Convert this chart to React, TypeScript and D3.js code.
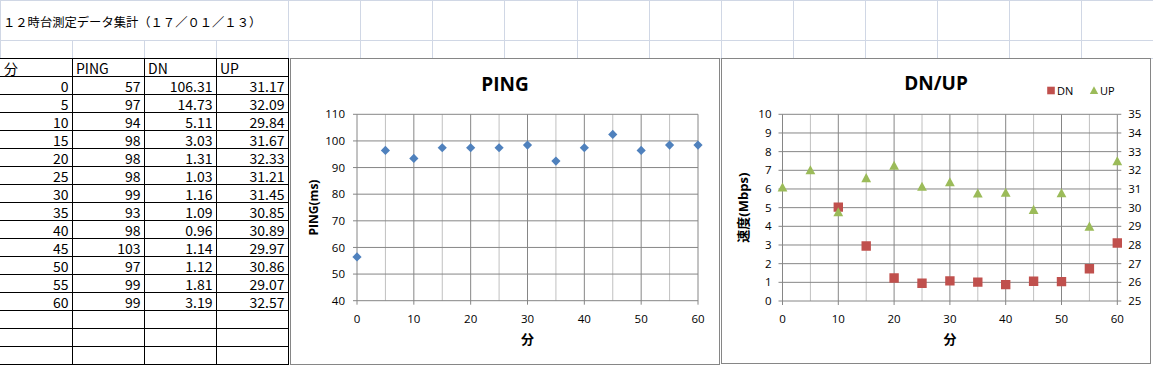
import React from "react";
import * as d3 from "d3";

const minutes = [0, 5, 10, 15, 20, 25, 30, 35, 40, 45, 50, 55, 60];
const ping = [57, 97, 94, 98, 98, 98, 99, 93, 98, 103, 97, 99, 99];
const dn = [106.31, 14.73, 5.11, 3.03, 1.31, 1.03, 1.16, 1.09, 0.96, 1.14, 1.12, 1.81, 3.19];
const up = [31.17, 32.09, 29.84, 31.67, 32.33, 31.21, 31.45, 30.85, 30.89, 29.97, 30.86, 29.07, 32.57];

const headers = ["分", "PING", "DN", "UP"];
const sheetTitle = "１２時台測定データ集計（１７／０１／１３）";
const pingTitle = "PING";
const dnupTitle = "DN/UP";
const xTitle = "分";
const pingYTitle = "PING(ms)";
const dnupYTitle = "速度(Mbps)";
const xTicks = [0, 10, 20, 30, 40, 50, 60];
const xMinor = [5, 15, 25, 35, 45, 55];
const pingTicks = [40, 50, 60, 70, 80, 90, 100, 110];
const dnTicks = [0, 1, 2, 3, 4, 5, 6, 7, 8, 9, 10];
const upTicks = [25, 26, 27, 28, 29, 30, 31, 32, 33, 34, 35];

const W = 1153;
const H = 365;
const COLW = 1153 / 16;
const SHEET_GRID = "#d0d7e5";
const MAJOR = "#868686";
const MINOR = "#c0c0c0";
const BLUE = "#4f81bd";
const RED = "#c0504d";
const GREEN = "#9bbb59";
const MARK_DY = 1.5;
const CHART_FONT = "'Open Sans', 'Noto Sans CJK JP', sans-serif";
const CJK_FONT = "'Noto Sans CJK JP', sans-serif";

const colX = d3.range(17).map((i) => Math.round(i * COLW));
const rowTops = [0, 40, 58];
const tableRows = d3.range(17).map((i) => 58 + i * 18);
const tableBottom = 364;

const diamond = (r: number) => `M0,${-r}L${r},0L0,${r}L${-r},0Z`;
const square = (r: number) => `M${-r},${-r}H${r}V${r}H${-r}Z`;
const triangle = (r: number) => `M0,${-r}L${r},${r * 0.85}H${-r}Z`;

function SheetGrid() {
  const lines: React.ReactNode[] = [];
  colX.forEach((x, i) => {
    const hiddenTop = i >= 1 && i <= 3;
    lines.push(
      <line key={"v" + i} x1={x + 0.5} x2={x + 0.5} y1={hiddenTop ? 40 : 0} y2={58} stroke={SHEET_GRID} />
    );
  });
  rowTops.forEach((y, i) => {
    lines.push(<line key={"h" + i} x1={0} x2={W} y1={y + 0.5} y2={y + 0.5} stroke={SHEET_GRID} />);
  });
  return <g>{lines}</g>;
}

function DataTable() {
  const fmt2 = d3.format(".2f");
  const rows = minutes.map((m, i) => [String(m), String(ping[i]), fmt2(dn[i]), fmt2(up[i])]);
  const right = colX.slice(1, 5);
  return (
    <g fontFamily={CJK_FONT} fontSize={14} fill="#000">
      {tableRows.map((y, i) => (
        <line key={"r" + i} x1={0} x2={right[3] + 0.5} y1={y + 0.5} y2={y + 0.5} stroke="#000" />
      ))}
      <line x1={0} x2={right[3] + 0.5} y1={tableBottom + 0.5} y2={tableBottom + 0.5} stroke="#000" />
      {right.map((x, i) => (
        <line key={"c" + i} x1={x + 0.5} x2={x + 0.5} y1={58} y2={tableBottom + 1} stroke="#000" />
      ))}
      {headers.map((h, i) => (
        <text key={"hd" + i} x={colX[i] + 4} y={74}>
          {h}
        </text>
      ))}
      {rows.map((r, ri) =>
        r.map((v, ci) => (
          <text key={ri + "-" + ci} x={right[ci] - 3.5} y={76 + (ri + 1) * 18 - 2} textAnchor="end">
            {v}
          </text>
        ))
      )}
    </g>
  );
}

function PingChart() {
  const x0 = 290, x1 = 720, y0 = 58, y1 = 364;
  const x = d3.scaleLinear().domain([0, 60]).range([357, 698]);
  const y = d3.scaleLinear().domain([40, 110]).range([300.7, 114.3]);
  return (
    <g fontFamily={CHART_FONT}>
      <rect x={x0 + 0.5} y={y0 + 0.5} width={x1 - x0 - 1} height={y1 - y0} fill="#fff" stroke={MAJOR} />
      <text x={(x0 + x1) / 2} y={90.5} textAnchor="middle" fontWeight="bold" fontSize={19}>
        {pingTitle}
      </text>
      {xMinor.map((t) => (
        <line key={"m" + t} x1={x(t)} x2={x(t)} y1={y(110)} y2={y(40)} stroke={MINOR} />
      ))}
      {xTicks.map((t) => (
        <line key={"vx" + t} x1={x(t)} x2={x(t)} y1={y(110)} y2={y(40) + 4} stroke={MAJOR} />
      ))}
      {pingTicks.map((t) => (
        <line key={"hy" + t} x1={x(0) - 4} x2={x(60)} y1={y(t)} y2={y(t)} stroke={MAJOR} />
      ))}
      <g fontSize={11.5} fill="#000">
        {pingTicks.map((t) => (
          <text key={"ty" + t} x={345} y={y(t)} dy="0.36em" textAnchor="end">
            {t}
          </text>
        ))}
        {xTicks.map((t) => (
          <text key={"tx" + t} x={x(t)} y={322.5} textAnchor="middle">
            {t}
          </text>
        ))}
      </g>
      <text x={(x(0) + x(60)) / 2} y={344} textAnchor="middle" fontWeight="bold" fontSize={13} fontFamily={CJK_FONT}>
        {xTitle}
      </text>
      <text
        transform={`translate(317.5,${(y(40) + y(110)) / 2}) rotate(-90)`}
        textAnchor="middle"
        fontWeight="bold"
        fontSize={12}
      >
        {pingYTitle}
      </text>
      {minutes.map((m, i) => (
        <path key={"p" + i} d={diamond(4.6)} transform={`translate(${x(m)},${y(ping[i]) + MARK_DY})`} fill={BLUE} />
      ))}
    </g>
  );
}

function DnUpChart() {
  const x0 = 721, x1 = 1151, y0 = 58, y1 = 363;
  const x = d3.scaleLinear().domain([0, 60]).range([782.5, 1117.3]);
  const yL = d3.scaleLinear().domain([0, 10]).range([301, 114.3]);
  const yR = d3.scaleLinear().domain([25, 35]).range([301, 114.3]);
  return (
    <g fontFamily={CHART_FONT}>
      <defs>
        <clipPath id="dnclip">
          <rect x={x(0) - 6} y={yL(10) - 6} width={x(60) - x(0) + 12} height={yL(0) - yL(10) + 12} />
        </clipPath>
      </defs>
      <rect x={x0 + 0.5} y={y0 + 0.5} width={x1 - x0 - 1} height={y1 - y0} fill="#fff" stroke={MAJOR} />
      <text x={(x0 + x1) / 2} y={90} textAnchor="middle" fontWeight="bold" fontSize={19}>
        {dnupTitle}
      </text>
      {xMinor.map((t) => (
        <line key={"m" + t} x1={x(t)} x2={x(t)} y1={yL(10)} y2={yL(0)} stroke={MINOR} />
      ))}
      {xTicks.map((t) => (
        <line key={"vx" + t} x1={x(t)} x2={x(t)} y1={yL(10)} y2={yL(0) + 4} stroke={MAJOR} />
      ))}
      {dnTicks.map((t) => (
        <line key={"hy" + t} x1={x(0) - 4} x2={x(60)} y1={yL(t)} y2={yL(t)} stroke={MAJOR} />
      ))}
      {upTicks.map((t) => (
        <line key={"ry" + t} x1={x(60)} x2={x(60) + 4} y1={yR(t)} y2={yR(t)} stroke={MAJOR} />
      ))}
      <g fontSize={11.5} fill="#000">
        {dnTicks.map((t) => (
          <text key={"ty" + t} x={771.5} y={yL(t)} dy="0.36em" textAnchor="end">
            {t}
          </text>
        ))}
        {upTicks.map((t) => (
          <text key={"tr" + t} x={1128.3} y={yR(t)} dy="0.36em" textAnchor="start">
            {t}
          </text>
        ))}
        {xTicks.map((t) => (
          <text key={"tx" + t} x={x(t)} y={322.5} textAnchor="middle">
            {t}
          </text>
        ))}
      </g>
      <text x={(x(0) + x(60)) / 2} y={344} textAnchor="middle" fontWeight="bold" fontSize={13} fontFamily={CJK_FONT}>
        {xTitle}
      </text>
      <text
        transform={`translate(748,${(yL(0) + yL(10)) / 2}) rotate(-90)`}
        textAnchor="middle"
        fontWeight="bold"
        fontSize={13}
      >
        {dnupYTitle}
      </text>
      <g clipPath="url(#dnclip)">
        {minutes.map((m, i) => (
          <path key={"d" + i} d={square(4.7)} transform={`translate(${x(m)},${yL(dn[i]) + MARK_DY})`} fill={RED} />
        ))}
        {minutes.map((m, i) => (
          <path key={"u" + i} d={triangle(4.9)} transform={`translate(${x(m)},${yR(up[i]) + MARK_DY})`} fill={GREEN} />
        ))}
      </g>
      <g fontSize={11}>
        <path d={square(3.8)} transform="translate(1051,90.5)" fill={RED} />
        <text x={1057} y={94.5}>DN</text>
        <path d={triangle(4.2)} transform="translate(1094,90.5)" fill={GREEN} />
        <text x={1100} y={94.5}>UP</text>
      </g>
    </g>
  );
}

export default function App() {
  return (
    <div style={{ position: "fixed", left: 0, top: 0 }}>
      <svg width={W} height={H} style={{ display: "block", background: "#fff" }}>
        <rect x={0} y={0} width={W} height={H} fill="#fff" />
        <SheetGrid />
        <text x={3} y={27} fontFamily={CJK_FONT} fontSize={12.3} fill="#000">
          {sheetTitle}
        </text>
        <DataTable />
        <PingChart />
        <DnUpChart />
      </svg>
    </div>
  );
}
